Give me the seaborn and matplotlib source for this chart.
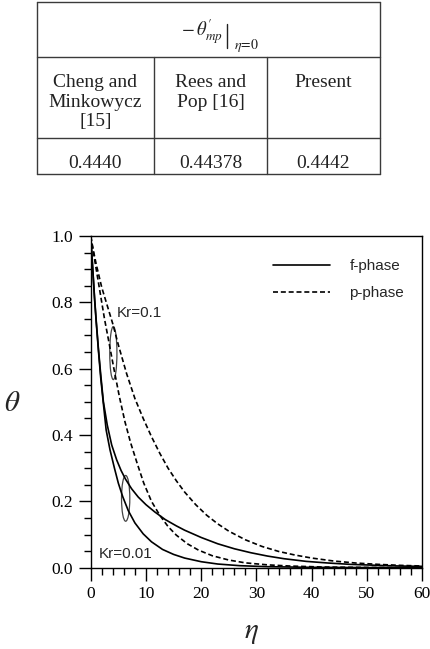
import numpy as np
import pandas as pd
import seaborn as sns
import matplotlib.pyplot as plt
from matplotlib.patches import Ellipse
from matplotlib.lines import Line2D
from matplotlib.ticker import MultipleLocator, FormatStrFormatter

# theta profiles (eta, theta)
# f-phase, lower solid curve
eta_f1 = [0, 0.3, 0.7, 1.0, 1.4, 1.8, 2.2, 2.8, 3.5, 4.3, 5.0, 5.8, 6.8, 8, 9.5, 11, 13, 15, 17, 20, 23, 27,
          32, 40, 50, 60]
theta_f1 = [1.0, 0.92, 0.81, 0.74, 0.655, 0.575, 0.51, 0.415, 0.355, 0.30, 0.255, 0.214, 0.172, 0.135, 0.102,
            0.078, 0.055, 0.04, 0.029, 0.018, 0.011, 0.006, 0.003, 0.001, 0.0003, 0.0001]
# f-phase, upper solid curve
eta_f2 = [0, 0.3, 0.7, 1.0, 1.4, 1.8, 2.3, 3.0, 3.8, 4.7, 5.5, 6.3, 7.4, 8.6, 10, 11.6, 13.5, 15.5, 17, 20, 23,
          26, 29, 32, 35, 39, 43, 47, 52, 56, 60]
theta_f2 = [1.0, 0.92, 0.815, 0.745, 0.66, 0.585, 0.50, 0.43, 0.37, 0.325, 0.293, 0.267, 0.238, 0.213, 0.19,
            0.168, 0.145, 0.126, 0.113, 0.091, 0.072, 0.057, 0.045, 0.035, 0.027, 0.019, 0.014, 0.010, 0.007,
            0.005, 0.004]
# p-phase, inner dashed curve
eta_p1 = [0, 0.5, 1, 1.7, 2.5, 3.3, 4.2, 5.2, 6.2, 7.2, 8.4, 9.6, 11, 12.5, 14, 15.5, 17.5, 19.5, 22, 25, 28,
          32, 36, 42, 50, 60]
theta_p1 = [1.0, 0.95, 0.9, 0.83, 0.75, 0.68, 0.6, 0.515, 0.44, 0.378, 0.315, 0.255, 0.2, 0.158, 0.124, 0.098,
            0.072, 0.053, 0.036, 0.023, 0.0145, 0.0085, 0.005, 0.002, 0.0007, 0.0002]
# p-phase, outer dashed curve
eta_p2 = [0, 0.5, 1, 2, 3, 4, 5, 6.5, 8, 9.5, 11, 12.5, 14, 15.5, 17, 19, 21, 23, 25, 28, 31, 34, 37, 40, 44,
          48, 52, 56, 60]
theta_p2 = [1.0, 0.955, 0.915, 0.845, 0.79, 0.735, 0.672, 0.585, 0.51, 0.45, 0.395, 0.345, 0.30, 0.262, 0.228,
            0.19, 0.158, 0.132, 0.11, 0.084, 0.064, 0.049, 0.038, 0.029, 0.02, 0.014, 0.010, 0.007, 0.005]

phases = ["f-phase", "p-phase"]
kr_labels = ["Kr=0.1", "Kr=0.01"]

# comparison table
head_main = r"$-\,\theta^{\prime}_{mp}$"
head_sub = r"$\eta\!=\!0$"
table_cols = ["Cheng and\nMinkowycz\n[15]", "Rees and\nPop [16]", "Present"]
table_vals = ["0.4440", "0.44378", "0.4442"]

sns.set_style("ticks")
plt.rcParams['font.family'] = ['Liberation Sans', 'DejaVu Sans']
plt.rcParams['mathtext.fontset'] = 'stix'
plt.rcParams['axes.edgecolor'] = 'black'
plt.rcParams['xtick.color'] = 'black'
plt.rcParams['ytick.color'] = 'black'

df = pd.concat([
    pd.DataFrame({'eta': eta_f1, 'theta': theta_f1, 'phase': phases[0], 'curve': 'f1'}),
    pd.DataFrame({'eta': eta_f2, 'theta': theta_f2, 'phase': phases[0], 'curve': 'f2'}),
    pd.DataFrame({'eta': eta_p1, 'theta': theta_p1, 'phase': phases[1], 'curve': 'p1'}),
    pd.DataFrame({'eta': eta_p2, 'theta': theta_p2, 'phase': phases[1], 'curve': 'p2'}),
])

fig = plt.figure(figsize=(4.31, 6.49), dpi=100)

# table drawn in pixel coords on a full-figure axes
tab = fig.add_axes([0, 0, 1, 1])
tab.set_xlim(0, 431)
tab.set_ylim(649, 0)
tab.axis('off')
lc = '#3a3a3a'
for y in [1.7, 56.7, 137.7, 174]:
    tab.plot([37, 380], [y, y], color=lc, lw=1.0)
tab.plot([37, 37], [1.7, 174], color=lc, lw=1.0)
tab.plot([380, 380], [1.7, 174], color=lc, lw=1.0)
for x in [154, 267.3]:
    tab.plot([x, x], [56.7, 174], color=lc, lw=1.0)
tab.text(223, 32, head_main, ha='right', va='center', fontsize=13.5, color='#222222')
tab.plot([227.5, 227.5], [24, 48], color='#222222', lw=1.0)
tab.text(234, 45, head_sub, ha='left', va='center', fontsize=10, color='#222222')
col_x = [95.5, 210.5, 323.5]
for cx, head, val in zip(col_x, table_cols, table_vals):
    tab.text(cx, 74, head, ha='center', va='top', fontsize=14, family='Liberation Serif',
             color='#222222', linespacing=1.2)
    tab.text(cx, 163.5, val, ha='center', va='center', fontsize=14, family='Liberation Serif',
             color='#222222')

ax = fig.add_axes([0.2104, 0.1253, 0.7694, 0.5111])
sns.lineplot(data=df, x='eta', y='theta', style='phase', units='curve', estimator=None,
             dashes={'f-phase': '', 'p-phase': (3, 1.7)}, color='black', lw=1.2,
             sort=False, legend=False, ax=ax)

ax.set_xlim(0, 60)
ax.set_ylim(0, 1)
ax.xaxis.set_major_locator(MultipleLocator(10))
ax.xaxis.set_minor_locator(MultipleLocator(2))
ax.yaxis.set_major_locator(MultipleLocator(0.2))
ax.yaxis.set_minor_locator(MultipleLocator(0.05))
ax.yaxis.set_major_formatter(FormatStrFormatter('%.1f'))
ax.tick_params(which='major', direction='out', length=9, width=1.0, labelsize=12.5,
               labelfontfamily='Liberation Serif', pad=4)
ax.tick_params(which='minor', direction='out', length=5, width=1.0)
for s in ax.spines.values():
    s.set_linewidth(1.0)
ax.set_xlabel('')
ax.set_ylabel('')

# ellipses grouping the curve pairs
ax.add_patch(Ellipse((4.1, 0.647), 1.3, 0.16, fill=False, ec='#444444', lw=0.9))
ax.add_patch(Ellipse((6.33, 0.209), 1.5, 0.138, fill=False, ec='#444444', lw=0.9))
ax.text(4.7, 0.769, kr_labels[0], ha='left', va='center', fontsize=11)
ax.text(1.37, 0.040, kr_labels[1], ha='left', va='center', fontsize=11)

handles = [Line2D([], [], color='black', lw=1.2),
           Line2D([], [], color='black', lw=1.2, dashes=(3, 1.7))]
ax.legend(handles, phases, loc='upper left', bbox_to_anchor=(0.55, 0.93), frameon=False,
          fontsize=11, handlelength=3.7, handletextpad=1.3, labelspacing=0.86,
          borderpad=0, borderaxespad=0)

ax.text(-0.237, 0.497, r'$\theta$', transform=ax.transAxes, ha='center', va='center', fontsize=21)
ax.text(0.486, -0.194, r'$\eta$', transform=ax.transAxes, ha='center', va='center', fontsize=21)

fig.savefig('out.png', dpi=100)
